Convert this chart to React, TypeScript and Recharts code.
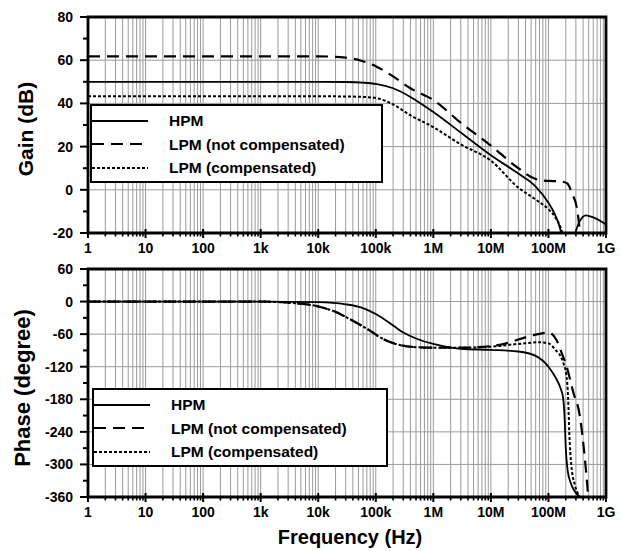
import React from 'react';
import { LineChart, Line, XAxis, YAxis, CartesianGrid, ReferenceArea, Legend } from 'recharts';

// frequency axis: every 1..9 x 10^k from 1 Hz to 1 GHz
const decadeLabels = ['1', '10', '100', '1k', '10k', '100k', '1M', '10M', '100M', '1G'];
const freqTicks: number[] = [];
for (let d = 0; d < 9; d++) {
  for (let m = 1; m < 10; m++) freqTicks.push(m * Math.pow(10, d));
}
freqTicks.push(1e9);

const gainTicks = [-20, -10, 0, 10, 20, 30, 40, 50, 60, 70, 80];
const gainMajor = [-20, 0, 20, 40, 60, 80];
const phaseTicks = [-360, -330, -300, -270, -240, -210, -180, -150, -120, -90, -60, -30, 0, 30, 60];
const phaseMajor = [-360, -300, -240, -180, -120, -60, 0, 60];

// gain (dB)
const gainFreqHPM = [1, 1e3, 1e4, 3e4, 6e4, 1e5, 2e5, 4e5, 1e6, 3e6, 1e7, 3e7, 6e7, 1e8, 1.3e8, 1.6e8, 2e8, 2.5e8, 3e8, 3.5e8, 4.5e8, 6e8, 1e9];
const gainHPM = [50, 50, 50, 49.9, 49.6, 49, 47, 43, 36, 26.5, 16, 7.5, 1.5, -6, -11.5, -18, -30, -26, -19, -14.5, -11.8, -12.8, -16];

const gainFreqLPM = [1, 1e3, 1e4, 3e4, 6e4, 1e5, 2e5, 4e5, 1e6, 3e6, 1e7, 3e7, 6e7, 1e8, 1.5e8, 2.1e8, 2.6e8, 3.1e8, 3.5e8, 3.9e8];
const gainLPM = [61.8, 61.8, 61.8, 61.2, 59.5, 57.2, 52.5, 47, 41.6, 31, 20.5, 10, 5, 4.1, 4, 3, -2, -8, -18.5, -30];

const gainFreqLPMc = [1, 1e3, 1e4, 3e4, 6e4, 1e5, 2e5, 4e5, 1e6, 3e6, 1e7, 3e7, 6e7, 1e8, 1.3e8, 1.6e8, 2e8];
const gainLPMc = [43.3, 43.3, 43.3, 43.2, 43, 42.5, 39.5, 34.5, 29, 21, 13.5, 1, -4.5, -9, -12.5, -17, -26];

// phase (degree)
const phaseFreqHPM = [1, 1e3, 1e4, 3e4, 6e4, 1e5, 2e5, 3e5, 5e5, 1e6, 3e6, 1e7, 3e7, 6e7, 1e8, 1.3e8, 1.6e8, 1.8e8, 1.9e8, 2e8, 2.15e8, 2.4e8, 2.8e8, 3.5e8];
const phaseHPM = [0, 0, -1, -5, -12, -23, -44, -57, -68, -78, -87, -89, -92, -100, -120, -138, -158, -178, -210, -270, -310, -332, -348, -360];

const phaseFreqLPM = [1, 1e3, 3e3, 1e4, 2e4, 3.5e4, 7e4, 1.35e5, 2.6e5, 5e5, 1e6, 3e6, 1e7, 2e7, 3e7, 6e7, 1e8, 1.4e8, 1.7e8, 2.05e8, 2.7e8, 3.5e8, 4.3e8, 4.9e8];
const phaseLPM = [0, 0, -2, -9, -19, -32, -50, -69, -80, -84, -85, -85, -82, -76, -70, -61, -57, -72, -95, -118, -167, -210, -290, -358];

const phaseFreqLPMc = [1, 1e3, 3e3, 1e4, 2e4, 3.5e4, 7e4, 1.35e5, 2.6e5, 5e5, 1e6, 3e6, 1e7, 3e7, 7e7, 1e8, 1.3e8, 1.8e8, 2.05e8, 2.2e8, 2.3e8, 2.5e8, 2.9e8, 3.5e8];
const phaseLPMc = [0, 0, -2, -9, -19, -32, -50, -69, -80, -84, -85, -85, -83, -78, -75, -77, -88, -112, -136, -179, -240, -302, -339, -360];

const seriesNames = ['HPM', 'LPM (not compensated)', 'LPM (compensated)'];
const seriesStyle = [
  { width: 1.8, dash: undefined as string | undefined },
  { width: 2.2, dash: '12 7' },
  { width: 2, dash: '3 2' },
];

const toPoints = (fs: number[], vs: number[]) => fs.map((f, i) => ({ f, v: vs[i] }));

const FONT = '"Liberation Sans", Arial, Helvetica, sans-serif';

const isDecade = (v: number) => Math.abs(Math.log10(v) - Math.round(Math.log10(v))) < 1e-9;

const XTick = (props: any) => {
  const { x, y, payload } = props;
  const v = payload.value;
  if (isDecade(v)) {
    const label = decadeLabels[Math.round(Math.log10(v))];
    return (
      <g>
        <line x1={x} x2={x} y1={y - 4} y2={y + 5} stroke="#000" strokeWidth={2} />
        <text x={x} y={y + 20} textAnchor="middle" fontFamily={FONT} fontWeight="bold" fontSize={14} fill="#000">
          {label}
        </text>
      </g>
    );
  }
  return <line x1={x} x2={x} y1={y} y2={y + 3.5} stroke="#000" strokeWidth={1.6} />;
};

const YTick = (props: any) => {
  const { x, y, payload, majors } = props;
  const v = payload.value;
  if (majors.includes(v)) {
    return (
      <g>
        <line x1={x - 8} x2={x} y1={y} y2={y} stroke="#000" strokeWidth={2} />
        <text x={x - 15} y={y} dy={5} textAnchor="end" fontFamily={FONT} fontWeight="bold" fontSize={14} fill="#000">
          {v}
        </text>
      </g>
    );
  }
  return <line x1={x - 5} x2={x} y1={y} y2={y} stroke="#000" strokeWidth={2} />;
};

const YTitle = (props: any) => {
  const { viewBox, text, cx, size, shift } = props;
  const cy = viewBox.y + viewBox.height / 2 + shift;
  return (
    <text x={cx} y={cy} transform={`rotate(-90 ${cx} ${cy})`} textAnchor="middle" dominantBaseline="central"
      fontFamily={FONT} fontWeight="bold" fontSize={size} fill="#000">
      {text}
    </text>
  );
};

const XTitle = (props: any) => {
  const { viewBox } = props;
  return (
    <text x={350} y={viewBox.y + 47} textAnchor="middle" fontFamily={FONT} fontWeight="bold" fontSize={20} fill="#000">
      Frequency (Hz)
    </text>
  );
};

const LegendBox = () => (
  <div style={{ boxSizing: 'border-box', width: '100%', height: '100%', border: '2.5px solid #000', background: '#fff', paddingTop: 3 }}>
    {seriesNames.map((name, i) => (
      <div key={name} style={{ display: 'flex', alignItems: 'center', height: 23.5 }}>
        <svg width={58} height={10} style={{ display: 'block' }}>
          <line x1={0} x2={56} y1={5} y2={5} stroke="#000" strokeWidth={seriesStyle[i].width} strokeDasharray={seriesStyle[i].dash} />
        </svg>
        <span style={{ marginLeft: 19, fontFamily: FONT, fontWeight: 'bold', fontSize: 15.5, color: '#000', lineHeight: 1 }}>{name}</span>
      </div>
    ))}
  </div>
);

const gainSeries = [toPoints(gainFreqHPM, gainHPM), toPoints(gainFreqLPM, gainLPM), toPoints(gainFreqLPMc, gainLPMc)];
const phaseSeries = [toPoints(phaseFreqHPM, phaseHPM), toPoints(phaseFreqLPM, phaseLPM), toPoints(phaseFreqLPMc, phaseLPMc)];

const App = () => {
  return (
    <div style={{ position: 'absolute', left: 0, top: 0, width: 621, height: 551, overflow: 'hidden', background: '#fff' }}>
      <LineChart width={621} height={260} margin={{ top: 17, right: 15, bottom: 0, left: 0 }}>
        <CartesianGrid stroke="#9a9a9a" strokeWidth={1} horizontalValues={gainMajor} />
        <XAxis dataKey="f" type="number" scale="log" domain={[1, 1e9]} allowDataOverflow ticks={freqTicks} interval={0}
          height={27} tickSize={0} tickMargin={0} axisLine={false} tickLine={false} tick={(p: any) => <XTick {...p} />} />
        <YAxis type="number" domain={[-20, 80]} allowDataOverflow ticks={gainTicks} interval={0} width={88}
          tickSize={0} tickMargin={0} axisLine={false} tickLine={false}
          tick={(p: any) => <YTick {...p} majors={gainMajor} />}
          label={<YTitle text="Gain (dB)" cx={25} size={21} shift={4} />} />
        <ReferenceArea x1={1} x2={1e9} y1={-20} y2={80} fill="none" stroke="#000" strokeWidth={2.8} />
        {gainSeries.map((d, i) => (
          <Line key={seriesNames[i]} data={d} dataKey="v" name={seriesNames[i]} type="monotone" stroke="#000"
            strokeWidth={seriesStyle[i].width} strokeDasharray={seriesStyle[i].dash} dot={false} isAnimationActive={false} />
        ))}
        <Legend layout="vertical" align="center" verticalAlign="middle" content={() => <LegendBox />}
          wrapperStyle={{ left: 90, top: 104, width: 293, height: 79 }} />
      </LineChart>
      <LineChart width={621} height={291} margin={{ top: 9, right: 15, bottom: 0, left: 0 }}>
        <CartesianGrid stroke="#9a9a9a" strokeWidth={1} horizontalValues={phaseMajor} />
        <XAxis dataKey="f" type="number" scale="log" domain={[1, 1e9]} allowDataOverflow ticks={freqTicks} interval={0}
          height={54} tickSize={0} tickMargin={0} axisLine={false} tickLine={false} tick={(p: any) => <XTick {...p} />}
          label={<XTitle />} />
        <YAxis type="number" domain={[-360, 60]} allowDataOverflow ticks={phaseTicks} interval={0} width={88}
          tickSize={0} tickMargin={0} axisLine={false} tickLine={false}
          tick={(p: any) => <YTick {...p} majors={phaseMajor} />}
          label={<YTitle text="Phase (degree)" cx={22} size={22} shift={5} />} />
        <ReferenceArea x1={1} x2={1e9} y1={-360} y2={60} fill="none" stroke="#000" strokeWidth={2.8} />
        {phaseSeries.map((d, i) => (
          <Line key={seriesNames[i]} data={d} dataKey="v" name={seriesNames[i]} type="monotone" stroke="#000"
            strokeWidth={seriesStyle[i].width} strokeDasharray={seriesStyle[i].dash} dot={false} isAnimationActive={false} />
        ))}
        <Legend layout="vertical" align="center" verticalAlign="middle" content={() => <LegendBox />}
          wrapperStyle={{ left: 92, top: 128, width: 296, height: 79 }} />
      </LineChart>
    </div>
  );
};

export default App;
